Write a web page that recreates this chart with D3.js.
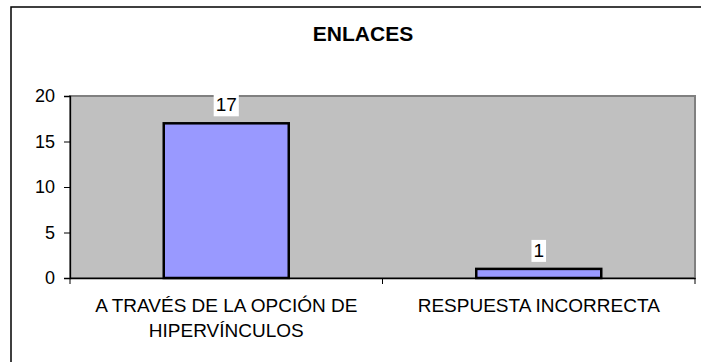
<!DOCTYPE html>
<meta charset="utf-8">
<style>
    body {margin: 0; background: #fff;}
    svg text {font-family: 'Liberation Sans', Arial, sans-serif;}
</style>
<svg width="701" height="362"></svg>
<script src="https://cdn.jsdelivr.net/npm/d3@7"></script>
<script>

var categories = [["A TRAVÉS DE LA OPCIÓN DE", "HIPERVÍNCULOS"], ["RESPUESTA INCORRECTA"]];
var values = [17, 1];
var yTicks = [0, 5, 10, 15, 20];
var title = "ENLACES";

var svg = d3.select("svg");

var plot = {left: 70, right: 695, top: 96, bottom: 278};

// outer chart frame (right/bottom edges fall outside the picture)
svg.append("rect")
    .attr("x", 11).attr("y", 7)
    .attr("width", 720).attr("height", 400)
    .style("fill", "#fff")
    .style("stroke", "#000")
    .style("stroke-width", 1.5);

svg.append("text")
    .attr("x", 363).attr("y", 41)
    .attr("text-anchor", "middle")
    .style("font-size", "21px").style("font-weight", "bold")
    .text(title);

var x = d3.scaleBand()
    .domain(d3.range(values.length))
    .range([plot.left, plot.right]);

var y = d3.scaleLinear()
    .domain([0, 20])
    .range([plot.bottom, plot.top]);

// plot area
svg.append("rect")
    .attr("x", plot.left).attr("y", plot.top)
    .attr("width", plot.right - plot.left)
    .attr("height", plot.bottom - plot.top)
    .style("fill", "#c0c0c0")
    .style("stroke", "#808080")
    .style("stroke-width", 2);

var barW = x.bandwidth() * 0.4;

svg.append("g")
    .selectAll("rect")
    .data(values)
    .enter().append("rect")
    .attr("x", function(d, i) { return x(i) + (x.bandwidth() - barW) / 2; })
    .attr("y", function(d) { return y(d); })
    .attr("width", barW)
    .attr("height", function(d) { return y(0) - y(d); })
    .style("fill", "#9999ff")
    .style("stroke", "#000")
    .style("stroke-width", 2.5);

// y axis
var yAxis = svg.append("g")
    .attr("transform", "translate(" + plot.left + ",0)")
    .call(d3.axisLeft(y).tickValues(yTicks).tickSize(6).tickPadding(9));
yAxis.select(".domain").style("stroke", "#000").style("stroke-width", 1.3);
yAxis.selectAll("text").style("font-size", "18px").style("fill", "#000")
    .style("font-family", "'Liberation Sans', Arial, sans-serif");

// x axis
var xAxis = svg.append("g")
    .attr("transform", "translate(0," + plot.bottom + ")")
    .call(d3.axisBottom(x).tickSize(0).tickFormat(""));
xAxis.select(".domain").style("stroke", "#000").style("stroke-width", 1.3);
var bounds = x.domain().map(function(d) { return x(d); }).concat([plot.right]);
xAxis.selectAll(".bound")
    .data(bounds)
    .enter().append("line")
    .attr("class", "bound")
    .attr("x1", function(d) { return d; }).attr("x2", function(d) { return d; })
    .attr("y1", 0).attr("y2", 6)
    .style("stroke", "#000");

var catLabels = svg.append("g")
    .selectAll("text")
    .data(categories)
    .enter().append("text")
    .attr("x", function(d, i) { return x(i) + x.bandwidth() / 2; })
    .attr("y", 312)
    .attr("text-anchor", "middle")
    .style("font-size", "19px");
catLabels.selectAll("tspan")
    .data(function(d) { return d; })
    .enter().append("tspan")
    .attr("x", function() { return d3.select(this.parentNode).attr("x"); })
    .attr("dy", function(d, i) { return i ? 25 : 0; })
    .text(function(d) { return d; });

// value labels with white boxes
var lab = svg.append("g")
    .selectAll("g")
    .data(values)
    .enter().append("g")
    .attr("transform", function(d, i) {
        return "translate(" + (x(i) + x.bandwidth() / 2) + "," + (y(d) - 12) + ")";
    });
lab.append("text")
    .attr("text-anchor", "middle")
    .style("font-size", "19px")
    .text(function(d) { return d; });
lab.each(function() {
    var g = d3.select(this), bb = g.select("text").node().getBBox();
    g.insert("rect", "text")
        .attr("x", bb.x - 2).attr("y", bb.y)
        .attr("width", bb.width + 4).attr("height", bb.height + 1)
        .style("fill", "#fff");
});

</script>
